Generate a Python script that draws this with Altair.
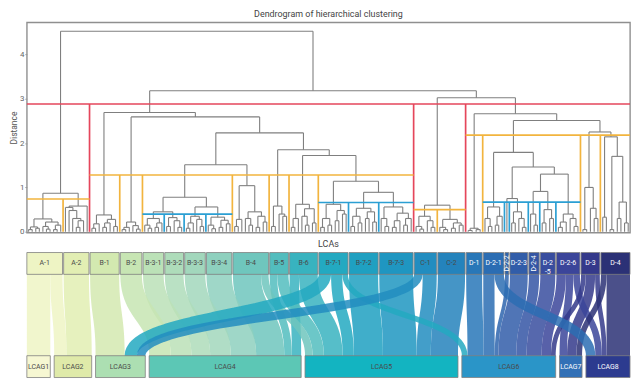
import altair as alt
import pandas as pd

# ------------------------------------------------------------------ data
L = 0  # a leaf of the dendrogram

TOP_NAMES = ["A-1", "A-2", "B-1", "B-2", "B-3-1", "B-3-2", "B-3-3", "B-3-4", "B-4", "B-5", "B-6",
             "B-7-1", "B-7-2", "B-7-3", "C-1", "C-2", "D-1", "D-2-1", "D-2-2", "D-2-3", "D-2-4",
             "D-2-5", "D-2-6", "D-3", "D-4"]
TOP_COLORS = ["#eef4c4", "#e2eeb3", "#d3e9b0", "#c7e5b3", "#bbe1b7", "#aedcba", "#a2d7bc", "#8ed0be",
              "#6fc6bd", "#52bdbe", "#38b3bf", "#23a9c1", "#1fa0c1", "#1f96c1", "#228dc0", "#2483bc",
              "#2877b8", "#2b6db3", "#2e65ae", "#315da9", "#3455a4", "#384d9f", "#3b459a", "#34398b",
              "#2b3176"]
BOT_NAMES = ["LCAG1", "LCAG2", "LCAG3", "LCAG4", "LCAG5", "LCAG6", "LCAG7", "LCAG8"]
BOT_COLORS = ["#f6f7d2", "#dfeaa9", "#acdfb2", "#5cc7b5", "#13b4c1", "#2a95c8", "#3270b6", "#2c3b8f"]

FLOW_SOURCE = ["A-1", "A-1", "A-2", "B-1", "B-2", "B-3-1", "B-3-2", "B-3-3", "B-3-4", "B-4", "B-4",
               "B-5", "B-5", "B-6", "B-6", "B-7-1", "B-7-1", "B-7-1", "B-7-2", "B-7-3", "C-1", "C-1",
               "C-2", "D-1", "D-2-1", "D-2-1", "D-2-2", "D-2-3", "D-2-4", "D-2-5", "D-2-6", "D-2-6",
               "D-2-6", "D-3", "D-3", "D-3", "D-4", "D-4"]
FLOW_TARGET = ["LCAG1", "LCAG2", "LCAG2", "LCAG3", "LCAG4", "LCAG4", "LCAG4", "LCAG4", "LCAG4", "LCAG4",
               "LCAG5", "LCAG4", "LCAG5", "LCAG4", "LCAG5", "LCAG3", "LCAG5", "LCAG6", "LCAG5", "LCAG5",
               "LCAG3", "LCAG5", "LCAG5", "LCAG6", "LCAG6", "LCAG8", "LCAG6", "LCAG6", "LCAG6", "LCAG6",
               "LCAG6", "LCAG7", "LCAG8", "LCAG6", "LCAG7", "LCAG8", "LCAG7", "LCAG8"]
FLOW_VALUE = [25, 13, 27, 31, 23, 22, 20, 22, 27, 30, 8, 8, 12, 10, 20, 13, 12, 6, 31, 36, 9, 15,
              29, 17, 12, 10, 4, 19, 11, 16, 10, 8, 7, 5, 10, 5, 6, 25]

# dendrogram: node = [height, left, right]
CLUSTER_TREES = {
    "A-1": [0.29, [0.11, [0.05, L, L], [0.08, L, L]], [0.22, [0.12, L, [0.06, L, L]], [0.15, [0.05, L, L], L]]],
    "A-2": [0.58, [0.55, L, [0.48, L, [0.30, L, [0.25, [0.10, L, L], L]]]], L],
    "B-1": [0.38, [0.18, [0.08, L, L], L], [0.28, [0.20, [0.10, L, L], L], [0.12, L, L]]],
    "B-2": [0.22, [0.10, [0.05, L, L], L], [0.14, L, [0.06, L, L]]],
    "B-3-1": [0.30, [0.15, L, [0.08, L, L]], [0.20, [0.10, L, L], L]],
    "B-3-2": [0.32, [0.12, L, L], [0.25, L, [0.10, L, L]]],
    "B-3-3": [0.35, [0.20, [0.08, L, L], L], [0.28, L, [0.12, L, L]]],
    "B-3-4": [0.33, [0.15, L, [0.07, L, L]], [0.26, [0.10, L, L], [0.18, L, L]]],
    "B-4": [1.04, [0.28, [0.12, L, L], L], [0.45, [0.30, L, [0.15, L, L]], [0.35, [0.10, L, L], [0.22, L, L]]]],
    "B-5": [0.58, [0.12, L, L], [0.40, L, [0.35, L, L]]],
    "B-6": [0.62, [0.30, [0.10, L, L], L], [0.52, [0.35, L, [0.15, L, L]], [0.20, L, L]]],
    "B-7-1": [0.62, [0.30, [0.10, L, L], [0.15, L, L]], [0.48, [0.25, L, L], [0.40, L, L]]],
    "B-7-2": [0.53, [0.35, [0.12, L, L], [0.20, L, L]], [0.45, [0.30, L, L], [0.22, L, L]]],
    "B-7-3": [0.56, [0.30, L, [0.12, L, L]], [0.42, [0.25, [0.10, L, L], L], [0.30, [0.15, L, L], L]]],
    "C-1": [0.35, [0.12, L, [0.06, L, L]], [0.25, L, [0.10, L, L]]],
    "C-2": [0.28, [0.10, L, [0.05, L, L]], [0.20, [0.08, L, L], [0.15, L, L]]],
    "D-1": [0.08, [0.03, L, L], [0.05, L, L]],
    "D-2-1": [0.56, [0.30, L, [0.12, L, L]], [0.35, [0.15, L, L], L]],
    "D-2-2": L,
    "D-2-3": [0.45, [0.20, L, L], [0.30, L, [0.10, L, L]]],
    "D-2-4": [0.40, L, [0.15, L, L]],
    "D-2-5": [0.50, [0.20, L, L], [0.30, L, L]],
    "D-2-6": [0.40, [0.22, [0.10, L, L], L], [0.30, L, [0.12, L, L]]],
    "D-3": [1.00, [0.05, L, L], [0.53, L, [0.30, L, L]]],
    "D-4": [2.14, [0.33, L, L], [1.70, [0.05, L, L], [0.67, [0.30, L, L], [0.20, L, L]]]],
}
UPPER_TREE = [4.52,
              [0.87, "A-1", "A-2"],
              [3.18,
               [2.69, "B-1",
                [2.59, "B-2",
                 [2.23,
                  [1.51, [0.78, [0.45, "B-3-1", "B-3-2"], [0.56, "B-3-3", "B-3-4"]], "B-4"],
                  [1.85, "B-5", [1.72, "B-6", [1.14, "B-7-1", [0.89, "B-7-2", "B-7-3"]]]]]]],
               [3.02, [0.60, "C-1", "C-2"],
                [2.66, "D-1",
                 [2.51,
                  [1.79, "D-2-1", [1.46, [0.75, "D-2-2", "D-2-3"], [1.30, [0.91, "D-2-4", "D-2-5"], "D-2-6"]]],
                  [2.25, "D-3", "D-4"]]]]]]

CUT_RED = 2.88
CUT_ORANGE = {"A": 0.74, "B": 1.28, "C": 0.50, "D": 2.18}
CUT_BLUE = {"B-3": 0.40, "B-7": 0.66, "D-2": 0.67}

# ------------------------------------------------------------------ layout
W = 608
H_DENDRO = 212
H_SANKEY = 126
GAP_TOP = 1.2
Y_TOP0, Y_TOP1, Y_BOT0, Y_BOT1 = 0, 22, 104, 126

top_val = {n: 0 for n in TOP_NAMES}
bot_val = {n: 0 for n in BOT_NAMES}
for s, t, v in zip(FLOW_SOURCE, FLOW_TARGET, FLOW_VALUE):
    top_val[s] += v
    bot_val[t] += v

top_x0, top_x1 = [], []
cur = 0.0
for n in TOP_NAMES:
    top_x0.append(cur)
    cur += top_val[n]
    top_x1.append(cur)
    cur += GAP_TOP
TOTAL = cur - GAP_TOP
gap_bot = (TOTAL - sum(FLOW_VALUE)) / (len(BOT_NAMES) - 1)
bot_x0, bot_x1 = [], []
cur = 0.0
for n in BOT_NAMES:
    bot_x0.append(cur)
    cur += bot_val[n]
    bot_x1.append(cur)
    cur += gap_bot

# ---- dendrogram segments
def n_leaves(node):
    if isinstance(node, list):
        return n_leaves(node[1]) + n_leaves(node[2])
    return 1

segs = []

def walk(node, leaf_iter=None):
    if isinstance(node, str):
        k = TOP_NAMES.index(node)
        sub = CLUSTER_TREES[node]
        n = n_leaves(sub)
        step = (top_x1[k] - top_x0[k]) / n
        return walk(sub, iter([top_x0[k] + (j + 0.5) * step for j in range(n)]))
    if not isinstance(node, list):
        return next(leaf_iter), 0.0
    h, a, b = node
    xa, ha = walk(a, leaf_iter)
    xb, hb = walk(b, leaf_iter)
    segs.append(dict(x=xa, x2=xa, y=ha, y2=h))
    segs.append(dict(x=xb, x2=xb, y=hb, y2=h))
    segs.append(dict(x=xa, x2=xb, y=h, y2=h))
    return (xa + xb) / 2, h

walk(UPPER_TREE)
seg_df = pd.DataFrame(segs)

# ---- partition (cut) lines
def prefix(name, d):
    return "-".join(name.split("-")[:d])

def left_edge(i):
    return 0.0 if i == 0 else (top_x1[i - 1] + top_x0[i]) / 2

def right_edge(i):
    return TOTAL if i == len(TOP_NAMES) - 1 else (top_x1[i] + top_x0[i + 1]) / 2

cuts = []

def add_cut(level, parent_depth, key, h):
    idx = [i for i, n in enumerate(TOP_NAMES) if prefix(n, parent_depth) == key]
    cuts.append(dict(x=left_edge(idx[0]), x2=right_edge(idx[-1]), y=h, y2=h, level=level))
    for a, b in zip(idx[:-1], idx[1:]):
        if prefix(TOP_NAMES[a], parent_depth + 1) != prefix(TOP_NAMES[b], parent_depth + 1):
            xb = right_edge(a)
            cuts.append(dict(x=xb, x2=xb, y=0.0, y2=h, level=level))

add_cut("k1", 0, "", CUT_RED)
for key, h in CUT_ORANGE.items():
    add_cut("k2", 1, key, h)
for key, h in CUT_BLUE.items():
    add_cut("k3", 2, key, h)
cut_df = pd.DataFrame(cuts)

# ---- sankey links
src_idx = [TOP_NAMES.index(s) for s in FLOW_SOURCE]
tgt_idx = [BOT_NAMES.index(t) for t in FLOW_TARGET]
links = list(range(len(FLOW_VALUE)))
sx, tx = {}, {}
for k in range(len(TOP_NAMES)):
    c = top_x0[k]
    for i in sorted([i for i in links if src_idx[i] == k], key=lambda i: tgt_idx[i]):
        sx[i] = c + FLOW_VALUE[i] / 2
        c += FLOW_VALUE[i]
for k in range(len(BOT_NAMES)):
    c = bot_x0[k]
    for i in sorted([i for i in links if tgt_idx[i] == k], key=lambda i: src_idx[i]):
        tx[i] = c + FLOW_VALUE[i] / 2
        c += FLOW_VALUE[i]

ym = (Y_TOP1 + Y_BOT0) / 2
rows = []
for rank, i in enumerate(sorted(links, key=lambda i: abs(tx[i] - sx[i]))):
    for j in range(41):
        s = j / 40
        a, b, c, d = (1 - s) ** 3, 3 * (1 - s) ** 2 * s, 3 * (1 - s) * s ** 2, s ** 3
        rows.append(dict(fid=f"f{rank:02d}", s=j,
                         x=(a + b) * sx[i] + (c + d) * tx[i],
                         y=a * Y_TOP1 + (b + c) * ym + d * Y_BOT0,
                         w=FLOW_VALUE[i], src=FLOW_SOURCE[i]))
rib_df = pd.DataFrame(rows)

# ---- nodes
def lum(hx):
    r, g, b = int(hx[1:3], 16), int(hx[3:5], 16), int(hx[5:7], 16)
    return (0.299 * r + 0.587 * g + 0.114 * b) / 255

node_rows = []
for names, colors, x0s, x1s, y0, y1 in [(TOP_NAMES, TOP_COLORS, top_x0, top_x1, Y_TOP0, Y_TOP1),
                                        (BOT_NAMES, BOT_COLORS, bot_x0, bot_x1, Y_BOT0, Y_BOT1)]:
    for n, col, a, b in zip(names, colors, x0s, x1s):
        px = (b - a) / TOTAL * W
        rot = 1 if px < 12 else 0
        label = n
        if not rot and px < 17 and len(n) > 3:
            p = n.rfind("-")
            label = n[:p] + "\n" + n[p:]
        node_rows.append(dict(name=n, x0=a, x1=b, y0=y0, y1=y1, xm=(a + b) / 2, ym=(y0 + y1) / 2,
                              label=label, rot=rot, light=1 if lum(col) < 0.42 else 0))
node_df = pd.DataFrame(node_rows)

# ------------------------------------------------------------------ charts
FONT = "Roboto"
x_scale = alt.Scale(domain=[0, TOTAL], nice=False, zero=False)
yd_scale = alt.Scale(domain=[-0.02, 4.72], nice=False, zero=False)
ys_scale = alt.Scale(domain=[Y_TOP0, Y_BOT1], nice=False, zero=False, reverse=True)
node_colors = alt.Scale(domain=TOP_NAMES + BOT_NAMES, range=TOP_COLORS + BOT_COLORS)

y_axis = alt.Axis(values=[0, 1, 2, 3, 4], format="d", title="Distance", tickSize=2, labelPadding=1,
                  titlePadding=1, labelFontSize=8, titleFontSize=8.5, labelColor="#666",
                  titleColor="#555", tickColor="#999", domain=False, grid=False,
                  titleFontWeight="normal", labelFont=FONT, titleFont=FONT)

grey = alt.Chart(seg_df).mark_rule(color="#7f7f7f", strokeWidth=1.1).encode(
    x=alt.X("x:Q", scale=x_scale, axis=None), x2="x2:Q",
    y=alt.Y("y:Q", scale=yd_scale, axis=y_axis), y2="y2:Q")
colored = alt.Chart(cut_df).mark_rule(strokeWidth=1.7).encode(
    x=alt.X("x:Q", scale=x_scale, axis=None), x2="x2:Q",
    y=alt.Y("y:Q", scale=yd_scale, axis=y_axis), y2="y2:Q",
    color=alt.Color("level:N", scale=alt.Scale(domain=["k1", "k2", "k3"],
                                               range=["#e5465b", "#f2b43e", "#2b9fd3"]), legend=None))
dendro = alt.layer(grey, colored).properties(
    width=W, height=H_DENDRO,
    title=alt.TitleParams("Dendrogram of hierarchical clustering", fontSize=9, fontWeight="normal",
                          color="#444", offset=3, font=FONT, anchor="middle"),
    view=alt.ViewBackground(stroke="#8f8f8f", strokeWidth=1.4))

ribbons = alt.Chart(rib_df).mark_trail(opacity=0.85).encode(
    x=alt.X("x:Q", scale=x_scale, axis=None),
    y=alt.Y("y:Q", scale=ys_scale, axis=None),
    detail="fid:N",
    order=alt.Order("s:Q"),
    size=alt.Size("w:Q", scale=alt.Scale(domain=[0, TOTAL], range=[0, W]), legend=None),
    color=alt.Color("src:N", scale=node_colors, legend=None))
boxes = alt.Chart(node_df).mark_rect(stroke="#7f7f7f", strokeWidth=0.8).encode(
    x=alt.X("x0:Q", scale=x_scale, axis=None), x2="x1:Q",
    y=alt.Y("y0:Q", scale=ys_scale, axis=None), y2="y1:Q",
    color=alt.Color("name:N", scale=node_colors, legend=None))
labels = []
for rot in (0, 1):
    for light in (0, 1):
        labels.append(alt.Chart(node_df).transform_filter(
            f"datum.rot == {rot} && datum.light == {light}").mark_text(
            fontSize=7, font=FONT, lineBreak="\n", angle=270 if rot else 0,
            color="#ffffff" if light else "#4a4a4a", baseline="middle", align="center").encode(
            x=alt.X("xm:Q", scale=x_scale, axis=None),
            y=alt.Y("ym:Q", scale=ys_scale, axis=None),
            text="label:N"))
sankey = alt.layer(ribbons, boxes, *labels).properties(
    width=W, height=H_SANKEY,
    title=alt.TitleParams("LCAs", fontSize=9, fontWeight="normal", color="#444", offset=3,
                          font=FONT, anchor="middle"),
    view=alt.ViewBackground(stroke="transparent"))

chart = alt.vconcat(dendro, sankey, spacing=3).resolve_scale(
    x="independent", y="independent", color="independent", size="independent").properties(
    padding={"left": 0, "right": 0, "top": 0, "bottom": 0})

chart.save("out.html", embed_options={"renderer": "svg", "actions": False})
